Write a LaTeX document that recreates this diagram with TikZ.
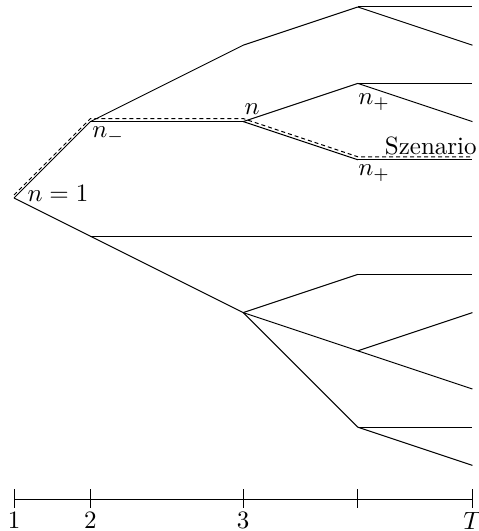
\documentclass[tikz,border=0pt]{standalone}
\usetikzlibrary{positioning}
\tikzset{
  edge/.style={line width=0.4pt},
  scen/.style={line width=0.4pt,dash pattern=on 1.6pt off 1.2pt},
  lbl/.style={inner sep=0pt,font=\normalsize},
  ticklbl/.style={inner sep=1.5pt,anchor=north},
}
\begin{document}
\begin{tikzpicture}[x=5.37mm,y=5.37mm]
  \useasboundingbox (-0.367,-8.717) rectangle (12.147,5.183);
  % tree vertices
  \coordinate (a) at (0,0);
  \coordinate (b1) at (2,2);
  \coordinate (b2) at (2,-1);
  \coordinate (c1) at (6,4);
  \coordinate (c2) at (6,2);
  \coordinate (c3) at (6,-3);
  \foreach \y in {5,3,1,-2,-4,-6} \coordinate (d\y) at (9,\y);
  \foreach \y in {5,4,3,2,1,-1,-2,-3,-5,-6,-7} \coordinate (l\y) at (12,\y);
  % branches
  \foreach \u/\v in {a/b1,a/b2,b1/c1,b1/c2,b2/l-1,b2/c3,
      c1/d5,d5/l5,d5/l4,c2/d3,c2/d1,d3/l3,d3/l2,d1/l1,
      c3/d-2,c3/d-4,c3/d-6,d-2/l-2,d-4/l-3,d-4/l-5,d-6/l-6,d-6/l-7}
    \draw[edge] (\u) -- (\v);
  % scenario
  \draw[scen] ([yshift=1.2pt]a) -- ([yshift=1.2pt]b1) -- ([yshift=1.2pt]c2)
    -- ([yshift=1.2pt]d1) -- ([yshift=1.2pt]l1);
  \node[lbl,anchor=base west] (ln1) at ([xshift=5.2pt,yshift=-1.2pt]a) {$n=1$};
  \node[lbl,anchor=base west] (lnm) at ([xshift=0.6pt,yshift=-6.4pt]b1) {$n_-$};
  \node[lbl,anchor=base west] (ln) at ([xshift=0.4pt,yshift=2.8pt]c2) {$n$};
  \node[lbl,anchor=base west] (lnp1) at ([yshift=-8.4pt]d3) {$n_+$};
  \node[lbl,anchor=base west] (lnp2) at ([yshift=-6.4pt]d1) {$n_+$};
  \node[lbl,anchor=base east] (lsz) at ([xshift=1.9pt,yshift=2.2pt]l1) {Szenario};
  % time axis
  \coordinate (t0) at (0,-7.9);
  \coordinate (tT) at (12,-7.9);
  \draw[edge] (t0) -- (tT);
  \foreach \x/\t in {0/1,2/2,6/3,9/{},12/$T$} {
    \coordinate (tk\x) at (\x,-7.9);
    \draw[edge] ([yshift=4.3pt]tk\x) -- ([yshift=-3.3pt]tk\x);
    \node[ticklbl] (tl\x) at ([yshift=-3.3pt]tk\x) {\t};
  }
\end{tikzpicture}
\end{document}
